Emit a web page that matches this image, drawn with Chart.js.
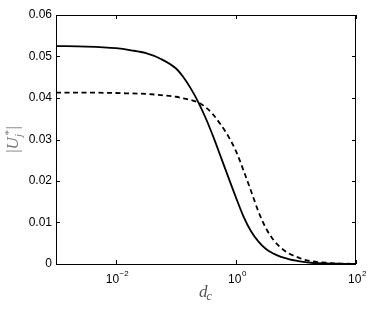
<!DOCTYPE html>
<html>
<head>
<meta charset="utf-8">
<script src="https://cdn.jsdelivr.net/npm/chart.js@4"></script>
<style>
html,body{margin:0;padding:0;background:#fff;}
canvas{display:block;}
</style>
</head>
<body>
<canvas id="c" width="374" height="312"></canvas>
<script>
// ---- data ----
const dcValues = [0.001, 0.00316, 0.01, 0.0178, 0.0316, 0.0562, 0.1, 0.133, 0.178, 0.237, 0.316, 0.422, 0.562, 0.75, 1, 1.33, 1.78, 2.37, 3.16, 4.22, 5.62, 7.5, 10, 13.3, 17.8, 31.6, 56.2, 100];
const solidSeries = [0.0525, 0.0524, 0.0520, 0.0515, 0.0508, 0.0494, 0.0471, 0.0450, 0.0422, 0.0389, 0.0350, 0.0305, 0.0257, 0.0208, 0.0160, 0.0115, 0.0079, 0.0054, 0.0036, 0.0025, 0.0017, 0.0012, 0.0008, 0.0005, 0.0003, 0.00012, 0.00005, 0.00002];
const dashedSeries = [0.0413, 0.0413, 0.0412, 0.0411, 0.0410, 0.0407, 0.0403, 0.0399, 0.0395, 0.0389, 0.0377, 0.0359, 0.0335, 0.0307, 0.0272, 0.0226, 0.0176, 0.0126, 0.0086, 0.0058, 0.0039, 0.0026, 0.0018, 0.0011, 0.0007, 0.0003, 0.0001, 0.00003];
const xTickValues = [0.01, 1, 100];
const xTickBase = ["10", "10", "10"];
const xTickExp = ["-2", "0", "2"];
const yTickValues = [0, 0.01, 0.02, 0.03, 0.04, 0.05, 0.06];
const yTickLabels = ["0", "0.01", "0.02", "0.03", "0.04", "0.05", "0.06"];
const xTitle = ["d", "c"];
const yTitle = ["|", "U", "j", "*", "|"];

const toPts = (ys) => dcValues.map((x, i) => ({x: x, y: ys[i]}));

const frame = {
  id: 'frame',
  afterDatasetsDraw(chart) {
    const ctx = chart.ctx;
    const a = chart.chartArea;
    const xs = chart.scales.x, ys = chart.scales.y;
    ctx.save();
    ctx.strokeStyle = '#000';
    ctx.lineWidth = 1;
    ctx.strokeRect(Math.round(a.left) + 0.5, Math.round(a.top) + 0.5, Math.round(a.right - a.left) - 1, Math.round(a.bottom - a.top));
    const L = 4;
    ctx.beginPath();
    yTickValues.forEach(v => {
      const p = Math.round(ys.getPixelForValue(v)) + 0.5;
      ctx.moveTo(a.left, p); ctx.lineTo(a.left + L, p);
      ctx.moveTo(a.right, p); ctx.lineTo(a.right - L, p);
    });
    xTickValues.forEach(v => {
      const p = Math.round(xs.getPixelForValue(v)) + 0.5;
      ctx.moveTo(p, a.bottom); ctx.lineTo(p, a.bottom - L);
      ctx.moveTo(p, a.top); ctx.lineTo(p, a.top + L);
    });
    ctx.stroke();

    // x tick labels with superscripts
    ctx.fillStyle = '#000';
    ctx.textBaseline = 'alphabetic';
    ctx.textAlign = 'left';
    xTickValues.forEach((v, i) => {
      const p = xs.getPixelForValue(v);
      ctx.font = '12px "Liberation Sans", Arial, sans-serif';
      const wb = ctx.measureText(xTickBase[i]).width;
      ctx.font = '8px "Liberation Sans", Arial, sans-serif';
      const ex = xTickExp[i].replace('-', '\u2212');
      const we = ctx.measureText(ex).width;
      const x0 = p - (wb + we) / 2 + 1;
      ctx.font = '12px "Liberation Sans", Arial, sans-serif';
      ctx.fillText(xTickBase[i], x0, a.bottom + 19);
      ctx.font = '8px "Liberation Sans", Arial, sans-serif';
      ctx.fillText(ex, x0 + wb + 0.5, a.bottom + 12);
    });

    // x title: d_c
    const cx = (a.left + a.right) / 2;
    ctx.font = 'italic 17px "Liberation Serif", serif';
    const wd = ctx.measureText(xTitle[0]).width;
    ctx.font = 'italic 12px "Liberation Serif", serif';
    const wc = ctx.measureText(xTitle[1]).width;
    const sx = cx - (wd + wc) / 2;
    ctx.fillStyle = '#555';
    ctx.font = 'italic 17px "Liberation Serif", serif';
    ctx.fillText(xTitle[0], sx, a.bottom + 33);
    ctx.font = 'italic 12px "Liberation Serif", serif';
    ctx.fillText(xTitle[1], sx + wd - 1, a.bottom + 36);

    // y title: |U_j^*|
    ctx.translate(13, (a.top + a.bottom) / 2);
    ctx.rotate(-Math.PI / 2);
    ctx.fillStyle = '#7a7a7a';
    const big = '17px "Liberation Serif", serif';
    const bigI = 'italic 17px "Liberation Serif", serif';
    const small = 'italic 11px "Liberation Serif", serif';
    ctx.font = big; const w1 = ctx.measureText(yTitle[0]).width;
    ctx.font = bigI; const w2 = ctx.measureText(yTitle[1]).width;
    ctx.font = small; const w3 = Math.max(ctx.measureText(yTitle[2]).width, ctx.measureText(yTitle[3]).width);
    ctx.font = big; const w5 = ctx.measureText(yTitle[4]).width;
    const tot = w1 + w2 + w3 + w5 + 2;
    let px = -tot / 2;
    ctx.font = big; ctx.fillText(yTitle[0], px, 5); px += w1;
    ctx.font = bigI; ctx.fillText(yTitle[1], px, 5); px += w2;
    ctx.font = small; ctx.fillText(yTitle[2], px, 9); ctx.fillText(yTitle[3], px + 1, -1); px += w3 + 2;
    ctx.font = big; ctx.fillText(yTitle[4], px, 5);
    ctx.restore();
  }
};

new Chart(document.getElementById('c'), {
  type: 'line',
  data: {
    datasets: [
      {data: toPts(solidSeries), borderColor: '#000', borderWidth: 1.8, pointRadius: 0, fill: false, cubicInterpolationMode: 'monotone'},
      {data: toPts(dashedSeries), borderColor: '#000', borderWidth: 1.8, borderDash: [5, 3.5], pointRadius: 0, fill: false, cubicInterpolationMode: 'monotone'}
    ]
  },
  options: {
    responsive: false,
    animation: false,
    events: [],
    layout: {padding: {left: 0, top: 15, right: 18, bottom: 0}},
    plugins: {legend: {display: false}, tooltip: {enabled: false}},
    scales: {
      x: {
        type: 'logarithmic', min: 0.001, max: 100,
        grid: {display: false, drawTicks: false}, border: {display: false},
        ticks: {display: false},
        afterBuildTicks: s => { s.ticks = xTickValues.map(v => ({value: v})); },
        afterFit: s => { s.height = 48; }
      },
      y: {
        type: 'linear', min: 0, max: 0.06,
        grid: {display: false, drawTicks: false}, border: {display: false},
        ticks: {
          color: '#000', padding: 4,
          font: {family: '"Liberation Sans", Arial, sans-serif', size: 12},
          callback: (v) => { const i = yTickValues.findIndex(t => Math.abs(t - v) < 1e-9); return i >= 0 ? yTickLabels[i] : ''; }
        },
        afterBuildTicks: s => { s.ticks = yTickValues.map(v => ({value: v})); },
        afterFit: s => { s.width = 56; }
      }
    }
  },
  plugins: [frame]
});
</script>
</body>
</html>
